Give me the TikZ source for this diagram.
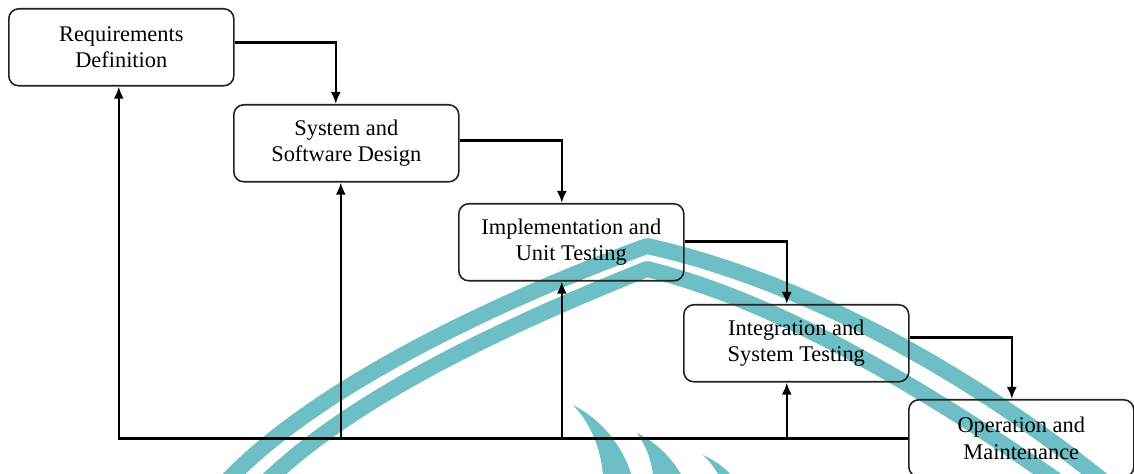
\documentclass[tikz,border=0pt]{standalone}
\usepackage{fontspec}
\setmainfont{Liberation Serif}
\usetikzlibrary{arrows.meta}
\definecolor{wmteal}{RGB}{110,191,197}
\definecolor{boxline}{RGB}{35,35,35}
\tikzset{
  phase/.style={draw=boxline, line width=0.8pt, rounded corners=5pt,
    minimum width=112.5pt, minimum height=38.5pt, inner sep=0pt,
    anchor=north west, align=center, text=black,
    font=\fontsize{11.2}{13.3}\selectfont},
  flow/.style={draw=black, line width=1.3pt, -{Latex[length=6pt,width=5pt]}},
  band/.style={draw=wmteal, line width=8pt, line cap=butt, line join=round},
  crescent/.style={fill=wmteal, draw=none}
}
\begin{document}
\begin{tikzpicture}[x=0.5pt, y=-0.5pt]
  \useasboundingbox (0,0) rectangle (1134,474);

  % background emblem: two chevron bands and three small crescents
  \draw[band] (228,480) .. controls (320,384) and (505,298) .. (647,246)
              .. controls (765,272) and (930,342) .. (1102,480);
  \draw[band] (268,480) .. controls (362,390) and (525,318) .. (647,269)
              .. controls (765,298) and (900,372) .. (1056,480);
  \fill[crescent] (573,405) .. controls (592,425) and (601,450) .. (603,476)
                 -- (632,476) .. controls (622,445) and (602,420) .. (573,405) -- cycle;
  \fill[crescent] (637,433) .. controls (647,448) and (652,462) .. (653,476)
                 -- (682,476) .. controls (672,458) and (656,442) .. (637,433) -- cycle;
  \fill[crescent] (703,455) .. controls (711,463) and (716,470) .. (719,476)
                 -- (732,476) .. controls (724,467) and (714,460) .. (703,455) -- cycle;

  % process phases
  \node[phase] (B1) at (8,8)     {Requirements\\Definition};
  \node[phase] (B2) at (233,104) {System and\\Software Design};
  \node[phase] (B3) at (458,203) {Implementation and\\Unit Testing};
  \node[phase] (B4) at (683,304) {Integration and\\System Testing};
  \node[phase] (B5) at (908,399) {Operation and\\Maintenance};

  % forward flow
  \draw[flow] ([yshift=2.4pt]B1.east)  -| ([xshift=-5.25pt]B2.north);
  \draw[flow] ([yshift=1.25pt]B2.east) -| ([xshift=-4.75pt]B3.north);
  \draw[flow] ([yshift=0.25pt]B3.east) -| ([xshift=-4.75pt]B4.north);
  \draw[flow] ([yshift=2.75pt]B4.east) -| ([xshift=-4.75pt]B5.north);

  % feedback to earlier phases
  \draw[flow] (B5.west) -| ([xshift=-1.25pt]B1.south);
  \draw[flow] ([xshift=-2.75pt]B2.south |- B5.west) -- ([xshift=-2.75pt]B2.south);
  \draw[flow] ([xshift=-4.75pt]B3.south |- B5.west) -- ([xshift=-4.75pt]B3.south);
  \draw[flow] ([xshift=-4.75pt]B4.south |- B5.west) -- ([xshift=-4.75pt]B4.south);
\end{tikzpicture}
\end{document}
